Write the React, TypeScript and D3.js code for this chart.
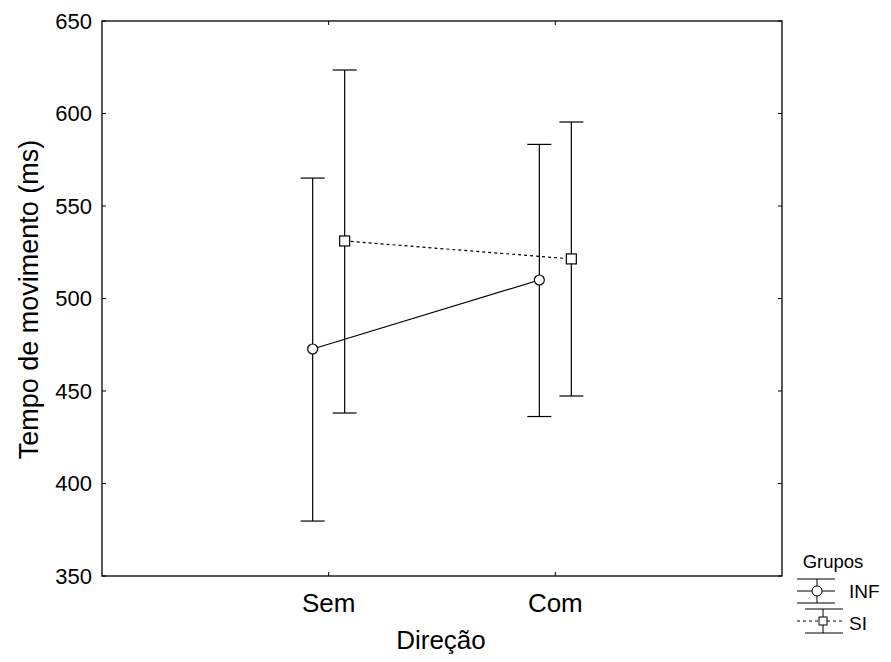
import React from "react";
import * as d3 from "d3";

const categories = ["Sem", "Com"];
const groups = ["INF", "SI"];
const means = { INF: [472.7, 510], SI: [531.1, 521.4] };
const upper = { INF: [565.1, 583.3], SI: [623.5, 595.4] };
const lower = { INF: [379.7, 436.2], SI: [438.1, 447.3] };
const yTicks = [350, 400, 450, 500, 550, 600, 650];

export default function App() {
  const W = 891, H = 662;
  const L = 102, R = 782, T = 21, B = 576;
  const y = d3.scaleLinear().domain([350, 650]).range([B, T]);
  const x = d3.scalePoint().domain(["", ...categories, " "]).range([L, R]);
  const offs = { INF: -16, SI: 16 };
  const font = "Liberation Sans, Arial, sans-serif";
  const line = d3.line<[number, number]>().x(d => d[0]).y(d => d[1]);
  return (
    <svg width={W} height={H} style={{ position: "absolute", left: 0, top: 0 }} fontFamily={font}>
      <rect x={L} y={T} width={R - L} height={B - T} fill="none" stroke="#000" strokeWidth={1.3} />
      {yTicks.map(t => (
        <g key={t}>
          <line x1={L} x2={L + 4} y1={y(t)} y2={y(t)} stroke="#000" />
          <line x1={R - 4} x2={R} y1={y(t)} y2={y(t)} stroke="#000" />
          <text x={L - 10} y={y(t)} dy="0.36em" textAnchor="end" fontSize={22}>{t}</text>
        </g>
      ))}
      {categories.map(c => (
        <g key={c}>
          <line x1={x(c)} x2={x(c)} y1={B} y2={B - 4} stroke="#000" />
          <line x1={x(c)} x2={x(c)} y1={T} y2={T + 4} stroke="#000" />
          <text x={x(c)} y={612} textAnchor="middle" fontSize={26}>{c}</text>
        </g>
      ))}
      <text x={(L + R) / 2 - 1} y={649} textAnchor="middle" fontSize={26}>Direção</text>
      <text transform={`translate(38,${(T + B) / 2 + 1}) rotate(-90)`} textAnchor="middle" fontSize={27}>Tempo de movimento (ms)</text>
      {groups.map(g => {
        const pts = categories.map((c, i) => [(x(c) as number) + offs[g], y(means[g][i])] as [number, number]);
        return (
          <g key={g}>
            <path d={line(pts) || ""} fill="none" stroke="#000" strokeWidth={1.2} strokeDasharray={g === "SI" ? "3,3" : undefined} />
            {categories.map((c, i) => {
              const cx = (x(c) as number) + offs[g];
              return (
                <g key={c}>
                  <line x1={cx} x2={cx} y1={y(upper[g][i])} y2={y(lower[g][i])} stroke="#000" strokeWidth={1.2} />
                  <line x1={cx - 12} x2={cx + 12} y1={y(upper[g][i])} y2={y(upper[g][i])} stroke="#000" strokeWidth={1.2} />
                  <line x1={cx - 12} x2={cx + 12} y1={y(lower[g][i])} y2={y(lower[g][i])} stroke="#000" strokeWidth={1.2} />
                  {g === "INF" ? (
                    <circle cx={cx} cy={y(means[g][i])} r={5} fill="#fff" stroke="#000" strokeWidth={1.2} />
                  ) : (
                    <rect x={cx - 5} y={y(means[g][i]) - 5} width={10} height={10} fill="#fff" stroke="#000" strokeWidth={1.2} />
                  )}
                </g>
              );
            })}
          </g>
        );
      })}
      <g>
        <text x={833} y={568} textAnchor="middle" fontSize={18.5}>Grupos</text>
        <line x1={797} x2={835} y1={579} y2={579} stroke="#000" />
        <line x1={797} x2={835} y1={603} y2={603} stroke="#000" />
        <line x1={817} x2={817} y1={579} y2={603} stroke="#000" />
        <line x1={797} x2={835} y1={591} y2={591} stroke="#000" />
        <circle cx={817} cy={591} r={5} fill="#fff" stroke="#000" />
        <text x={849} y={598} fontSize={19}>INF</text>
        <line x1={805} x2={843} y1={609} y2={609} stroke="#000" />
        <line x1={805} x2={843} y1={633} y2={633} stroke="#000" />
        <line x1={823} x2={823} y1={609} y2={633} stroke="#000" />
        <line x1={797} x2={843} y1={621} y2={621} stroke="#000" strokeDasharray="3,3" />
        <rect x={819} y={617} width={8} height={8} fill="#fff" stroke="#000" />
        <text x={849} y={630} fontSize={19}>SI</text>
      </g>
    </svg>
  );
}
